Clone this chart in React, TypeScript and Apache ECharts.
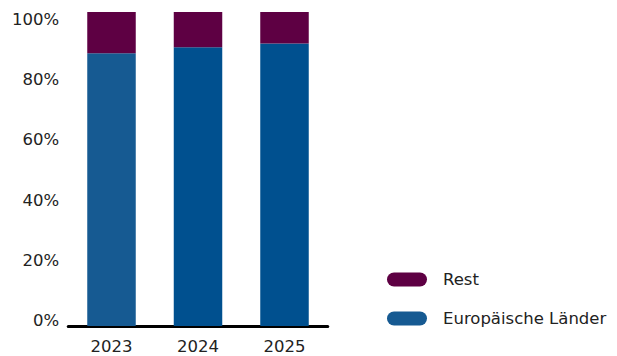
import React, { useEffect, useRef } from "react";
import * as echarts from "echarts";

const categories = ["2023", "2024", "2025"];
const europeValues = [86.9, 88.8, 90.0];
const restValues = [13.1, 11.2, 10.0];
const tickValues = [0, 20, 40, 60, 80, 100];
const seriesNames = ["Rest", "Europäische Länder"];

const REST_COLOR = "#5e0043";
const EUROPE_COLOR = "#165a92";
const EUROPE_COLORS = ["#165a92", "#00508f", "#00508f"];
const TEXT = "#222222";
const FONT = "DejaVu Sans";

export default function App() {
  const ref = useRef<HTMLDivElement>(null);
  useEffect(() => {
    document.body.style.margin = "0";
    const chart = echarts.init(ref.current!, null, { renderer: "svg" });
    const pill = "path://M7,0 L33,0 A7,7 0 0 1 33,14 L7,14 A7,7 0 0 1 7,0 Z";
    chart.setOption({
      animation: false,
      backgroundColor: "#ffffff",
      textStyle: { fontFamily: FONT, color: TEXT },
      grid: { left: 68.25, right: 289.25, top: 12, bottom: 30, outerBoundsMode: "none" },
      legend: {
        orient: "vertical",
        left: 387,
        top: 271,
        padding: 0,
        itemWidth: 40,
        itemHeight: 14,
        itemGap: 22,
        selectedMode: false,
        data: [
          { name: seriesNames[0], icon: pill },
          { name: seriesNames[1], icon: pill },
        ],
        textStyle: { fontFamily: FONT, fontSize: 16.5, color: TEXT, padding: [0, 0, 0, 11] },
      },
      xAxis: {
        type: "category",
        data: categories,
        axisLine: { show: true, lineStyle: { color: "#000000", width: 3 } },
        axisTick: { show: false },
        axisLabel: { color: TEXT, fontSize: 16.5, fontFamily: FONT, margin: 12 },
        splitLine: { show: false },
      },
      yAxis: [
        {
          type: "value",
          min: 0,
          max: 100,
          show: false,
          splitLine: { show: false },
        },
        {
          type: "value",
          min: -1.656,
          max: 102.32,
          position: "left",
          axisLine: { show: false },
          axisTick: { show: false },
          splitLine: { show: false },
          axisLabel: {
            customValues: tickValues,
            formatter: "{value}%",
            color: TEXT,
            fontSize: 16.5,
            fontFamily: FONT,
            margin: 9,
          },
        },
      ],
      series: [
        {
          name: seriesNames[1],
          type: "bar",
          stack: "total",
          yAxisIndex: 0,
          barWidth: 48.5,
          itemStyle: { color: EUROPE_COLOR },
          data: europeValues.map((v, i) => ({ value: v, itemStyle: { color: EUROPE_COLORS[i] } })),
        },
        {
          name: seriesNames[0],
          type: "bar",
          stack: "total",
          yAxisIndex: 0,
          barWidth: 48.5,
          itemStyle: { color: REST_COLOR },
          data: restValues,
        },
      ],
    });
    return () => chart.dispose();
  }, []);
  return <div ref={ref} style={{ width: 617, height: 356 }} />;
}
